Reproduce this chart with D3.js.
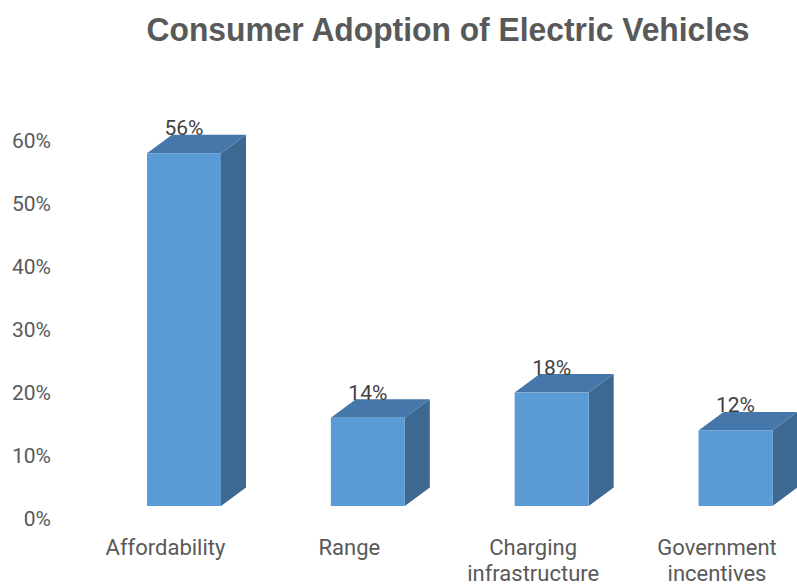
<!DOCTYPE html>
<html>
<head>
<meta charset="utf-8">
<script src="https://cdn.jsdelivr.net/npm/d3@7"></script>
<style>
  html, body { margin: 0; padding: 0; background: #fff; }
  svg { display: block; }
</style>
</head>
<body>
<svg id="chart" width="797" height="588"></svg>
<script>
// Data
const categories = ["Affordability", "Range", "Charging infrastructure", "Government incentives"];
const shares = [0.56, 0.14, 0.18, 0.12];
const tickValues = [0, 0.1, 0.2, 0.3, 0.4, 0.5, 0.6];
const title = "Consumer Adoption of Electric Vehicles";

const W = 797, H = 588;
const svg = d3.select("#chart");

// Colours of the three visible faces of each box
const frontColor = "#5B9BD5";
const topColor = "#4677AA";
const sideColor = "#3D6891";

// Front-plane value scale and the wall scale used by the axis labels
const y = d3.scaleLinear().domain([0, 0.6]).range([506, 128]);
const yWall = d3.scaleLinear().domain([0, 0.6]).range([519, 141]);
const x = d3.scalePoint().domain(categories).range([184, 735.5]);

const barW = 74;
const depthX = 25, depthY = -18.5;

// Title, set in a condensed bold face
svg.append("text")
  .attr("x", 448).attr("y", 41)
  .attr("text-anchor", "middle")
  .attr("font-family", "'Liberation Sans', Arial, sans-serif")
  .attr("font-weight", "bold")
  .attr("font-size", 34)
  .attr("fill", "#595959")
  .attr("textLength", 603)
  .attr("lengthAdjust", "spacingAndGlyphs")
  .text(title);

// Value axis (labels only)
const yAxis = d3.axisLeft(yWall)
  .tickValues(tickValues)
  .tickFormat(d3.format(".0%"))
  .tickSize(0)
  .tickPadding(0);

const gy = svg.append("g")
  .attr("transform", "translate(51,0)")
  .call(yAxis);
gy.select(".domain").remove();
gy.selectAll("text")
  .attr("font-family", "Roboto, 'Open Sans', sans-serif")
  .attr("font-size", 21)
  .attr("fill", "#595959");

// 3D boxes
const data = categories.map((c, i) => ({ cat: c, v: shares[i] }));

const bars = svg.append("g").selectAll("g.bar")
  .data(data)
  .join("g")
  .attr("class", "bar");

function poly(pts) {
  const p = d3.path();
  p.moveTo(pts[0][0], pts[0][1]);
  for (let i = 1; i < pts.length; i++) p.lineTo(pts[i][0], pts[i][1]);
  p.closePath();
  return p.toString();
}

// side face
bars.append("path")
  .attr("d", d => {
    const x1 = x(d.cat) + barW / 2, y0 = y(0), yt = y(d.v);
    return poly([[x1, yt], [x1 + depthX, yt + depthY], [x1 + depthX, y0 + depthY], [x1, y0]]);
  })
  .attr("fill", sideColor);

// top face
bars.append("path")
  .attr("d", d => {
    const x0 = x(d.cat) - barW / 2, x1 = x(d.cat) + barW / 2, yt = y(d.v);
    return poly([[x0, yt], [x0 + depthX, yt + depthY], [x1 + depthX, yt + depthY], [x1, yt]]);
  })
  .attr("fill", topColor);

// front face
bars.append("rect")
  .attr("x", d => x(d.cat) - barW / 2)
  .attr("y", d => y(d.v))
  .attr("width", barW)
  .attr("height", d => y(0) - y(d.v))
  .attr("fill", frontColor);

// Value labels
bars.append("text")
  .attr("x", d => x(d.cat))
  .attr("y", d => y(d.v) + depthY + 0.5)
  .attr("text-anchor", "middle")
  .attr("font-family", "Roboto, 'Open Sans', sans-serif")
  .attr("font-size", 21)
  .attr("fill", "#404040")
  .text(d => d3.format(".0%")(d.v));

// Category labels, one word per line when the name has several words
const catLayer = svg.append("g");
categories.forEach(c => {
  const words = c.split(" ");
  words.forEach((w, i) => {
    catLayer.append("text")
      .attr("x", x(c) - 18.5)
      .attr("y", 555 + i * 26)
      .attr("text-anchor", "middle")
      .attr("font-family", "Roboto, 'Open Sans', sans-serif")
      .attr("font-size", 22)
      .attr("fill", "#595959")
      .text(w);
  });
});
</script>
</body>
</html>
